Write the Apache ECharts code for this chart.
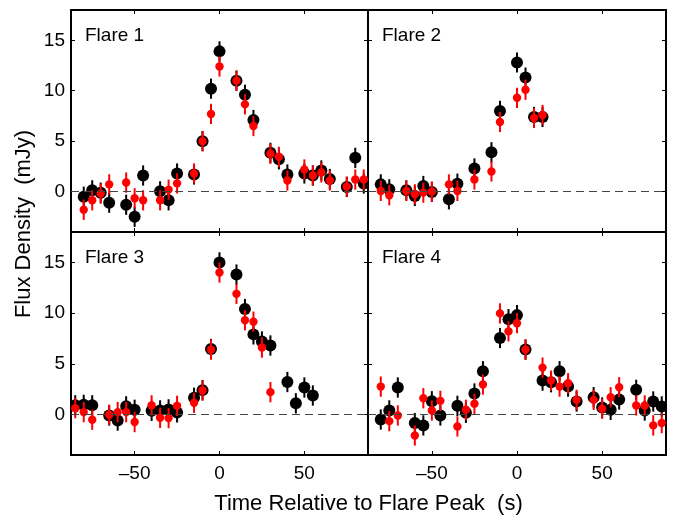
<!DOCTYPE html>
<html><head><meta charset="utf-8">
<script src="https://cdn.jsdelivr.net/npm/echarts@6/dist/echarts.min.js"></script>
<style>html,body{margin:0;padding:0;background:#fff}#c{width:678px;height:515px}</style>
</head><body><div id="c"></div>
<script>
// ---------------- data ----------------
const panelTitles = ['Flare 1', 'Flare 2', 'Flare 3', 'Flare 4'];
const xTicks = [-50, 0, 50];
const yTicks = [0, 5, 10, 15];
const xTitle = 'Time Relative to Flare Peak  (s)';
const yTitle = 'Flux Density  (mJy)';

const times1 = [-80,-75,-70,-65,-55,-50,-45,-35,-30,-25,-15,-10,-5,0,10,15,20,30,35,40,50,55,60,65,75,80,85];
const black1 = [-0.5,0.13,-0.1,-1.1,-1.3,-2.5,1.6,0.03,-0.86,1.8,1.7,5.0,10.2,13.9,11.0,9.6,7.1,3.85,3.2,1.7,1.8,1.6,2.1,1.25,0.46,3.35,0.8];
const red1   = [-1.8,-0.86,-0.2,0.72,0.9,-0.66,-0.86,-0.86,0.2,0.82,1.8,5.0,7.7,12.4,11.0,8.65,6.5,3.75,3.45,1.1,2.2,1.6,1.9,1.1,0.5,1.2,1.2];

const times2 = [-80,-75,-65,-60,-55,-50,-40,-35,-25,-15,-10,0,5,10,15];
const black2 = [0.72,0.23,0.13,-0.43,0.56,-0.03,-0.76,0.79,2.3,3.9,8.0,12.8,11.3,7.4,7.4];
const red2   = [0.07,-0.36,0.07,-0.26,-0.1,0,0.72,0.07,1.2,2.0,6.9,9.3,10.1,7.3,7.6];

const times3 = [-85,-80,-75,-65,-60,-55,-50,-40,-35,-30,-25,-15,-10,-5,0,10,15,20,25,30,40,45,50,55];
const black3 = [0.9,0.95,0.9,-0.1,-0.6,0.8,0.46,0.36,0.4,0.5,0.2,1.64,2.4,6.46,15.0,13.8,10.4,7.9,7.2,6.8,3.2,1.1,2.66,1.87];
const red3   = [0.62,0.23,-0.52,-0.03,0.23,0.23,-0.75,0.9,-0.33,-0.36,0.85,1.15,2.36,6.4,14.0,11.9,9.3,9.15,6.6,2.2,null,null,null,null];

const times4 = [-80,-75,-70,-60,-55,-50,-45,-35,-30,-25,-20,-10,-5,0,5,15,20,25,30,35,45,50,55,60,70,75,80,85];
const black4 = [-0.5,0.4,2.66,-0.85,-1.08,1.3,-0.1,0.85,0.16,2.07,4.26,7.54,9.4,9.8,6.4,3.34,3.18,4.26,2.75,1.28,1.7,0.69,0.46,1.48,2.43,0.39,1.28,0.79];
const red4   = [2.75,-0.66,-0.1,-2.07,1.6,0.39,1.34,-1.18,0.46,1.05,2.95,9.97,8.2,9.0,6.4,4.62,3.34,2.75,3.08,1.44,1.44,0.56,1.7,2.69,0.89,0.89,-1.08,-0.85];

const blackErr = 1.0;
const redErr = 1.0;

// ---------------- chart ----------------
const FONT = '"Liberation Sans", Arial, Helvetica, sans-serif';
const X_MIN = -87.5, X_MAX = 87.5, Y_MIN = -4, Y_MAX = 18;
const panels = [
  {t: times1, b: black1, r: red1},
  {t: times2, b: black2, r: red2},
  {t: times3, b: black3, r: red3},
  {t: times4, b: black4, r: red4}
];
const gridBoxes = [
  {left: 71, top: 10, width: 297, height: 222},
  {left: 368, top: 10, width: 298, height: 222},
  {left: 71, top: 232, width: 297, height: 223},
  {left: 368, top: 232, width: 298, height: 223}
];

function pairs(t, v) {
  const out = [];
  t.forEach((x, i) => { if (v[i] != null) out.push([x, v[i]]); });
  return out;
}
function errRender(radius, color, err) {
  return function (params, api) {
    const x = api.value(0), y = api.value(1);
    const c = api.coord([x, y]);
    const hi = api.coord([x, y + err]);
    const lo = api.coord([x, y - err]);
    return {type: 'group', children: [
      {type: 'line', shape: {x1: c[0], y1: hi[1], x2: c[0], y2: lo[1]}, style: {stroke: color, lineWidth: 2}},
      {type: 'circle', shape: {cx: c[0], cy: c[1], r: radius}, style: {fill: color}}
    ]};
  };
}
const fmtX = v => (v < 0 ? '\u2013' + Math.abs(v) : String(v));

const grid = [], xAxis = [], yAxis = [], series = [], graphic = [];
panels.forEach((p, i) => {
  grid.push(Object.assign({show: true, borderColor: '#000', borderWidth: 2, backgroundColor: 'transparent'}, gridBoxes[i]));
  const tick = (vals) => ({show: true, inside: true, length: 4, customValues: vals, lineStyle: {color: '#000', width: 1}});
  const line = {show: false, onZero: false};
  xAxis.push({type: 'value', gridIndex: i, position: 'bottom', min: X_MIN, max: X_MAX,
    axisLine: line, splitLine: {show: false}, axisTick: tick(xTicks),
    axisLabel: {show: i >= 2, customValues: xTicks, formatter: fmtX, fontSize: 19, color: '#000', fontFamily: FONT, margin: 9}});
  xAxis.push({type: 'value', gridIndex: i, position: 'top', min: X_MIN, max: X_MAX,
    axisLine: line, splitLine: {show: false}, axisTick: tick(xTicks), axisLabel: {show: false}});
  yAxis.push({type: 'value', gridIndex: i, position: 'left', min: Y_MIN, max: Y_MAX,
    axisLine: line, splitLine: {show: false}, axisTick: tick(yTicks),
    axisLabel: {show: i % 2 === 0, customValues: yTicks, fontSize: 19, color: '#000', fontFamily: FONT, margin: 6}});
  yAxis.push({type: 'value', gridIndex: i, position: 'right', min: Y_MIN, max: Y_MAX,
    axisLine: line, splitLine: {show: false}, axisTick: tick(yTicks), axisLabel: {show: false}});

  const bData = pairs(p.t, p.b), rData = pairs(p.t, p.r);
  series.push({type: 'scatter', xAxisIndex: 2 * i, yAxisIndex: 2 * i, data: bData, symbolSize: 0, silent: true, z: 1,
    markLine: {silent: true, symbol: 'none', label: {show: false}, animation: false,
      lineStyle: {color: '#444', type: [8, 5], width: 1}, data: [{yAxis: 0}]}});
  series.push({type: 'custom', xAxisIndex: 2 * i, yAxisIndex: 2 * i, data: bData, clip: true, z: 2,
    encode: {x: 0, y: 1}, renderItem: errRender(6, '#000', blackErr)});
  series.push({type: 'custom', xAxisIndex: 2 * i, yAxisIndex: 2 * i, data: rData, clip: true, z: 3,
    encode: {x: 0, y: 1}, renderItem: errRender(4.2, '#ff0000', redErr)});

  graphic.push({type: 'text', x: gridBoxes[i].left + 14, y: gridBoxes[i].top + 26,
    style: {text: panelTitles[i], fontSize: 19, fontFamily: FONT, fill: '#000', align: 'left', verticalAlign: 'middle'}});
});
graphic.push({type: 'text', x: 368.5, y: 504,
  style: {text: xTitle, fontSize: 22, fontFamily: FONT, fill: '#000', align: 'center', verticalAlign: 'middle'}});
graphic.push({type: 'text', x: 24, y: 224, rotation: Math.PI / 2,
  style: {text: yTitle, fontSize: 22, fontFamily: FONT, fill: '#000', align: 'center', verticalAlign: 'middle'}});

const chart = echarts.init(document.getElementById('c'), null, {renderer: 'canvas'});
chart.setOption({animation: false, backgroundColor: '#fff', grid, xAxis, yAxis, series, graphic});
</script>
</body></html>
